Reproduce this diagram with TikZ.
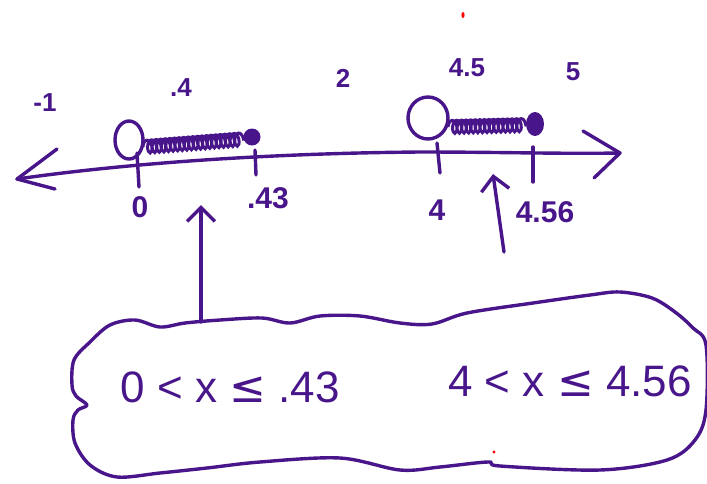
\documentclass[tikz,border=0pt]{standalone}
\usepackage{fontspec}
\setmainfont{Liberation Sans}
\newfontfamily\symfont{DejaVu Sans}
\usetikzlibrary{arrows.meta,decorations.pathmorphing}
\definecolor{ink}{RGB}{72,22,138}
\tikzset{
  inkline/.style={draw=ink,line width=3.4pt,line cap=round,line join=round},
  barb/.style={-{Straight Barb[length=14pt,width=28pt,line width=3.4pt]}},
  coilfill/.style={draw=ink,line width=3pt,decorate,
    decoration={coil,aspect=0.5,segment length=4.6pt,amplitude=6.5pt}},
  lbl/.style={text=ink,inner sep=0pt,font=\fontsize{30}{30}\selectfont\bfseries},
  toplbl/.style={lbl,font=\fontsize{26}{26}\selectfont\bfseries},
  ineq/.style={text=ink,inner sep=0pt,font=\fontsize{44}{44}\selectfont},
}
\newcommand{\lesseq}{{\symfont ≤}}
\begin{document}
\begin{tikzpicture}[x=1pt,y=-1pt]
\useasboundingbox (0,0) rectangle (707,483);

% number line with arrow ends
\coordinate (lend) at (17,179);
\coordinate (rend) at (620,153);
\draw[inkline] (lend) .. controls (150,160) and (300,153) .. (420,152)
                      .. controls (500,152) and (560,154) .. (rend);
\draw[inkline] (57,149) -- (lend) -- (55,189);
\draw[inkline] (583,131) -- (rend) -- (594,178);

% tick marks
\draw[inkline] (137,153) -- (139,187);
\draw[inkline] (255,150) -- (256,175);
\draw[inkline] (437,143) -- (440,173);
\draw[inkline] (533,147) -- (533,182);

% first interval: open at 0, closed at .43
\draw[inkline] (129,140) ellipse (14 and 19);
\draw[coilfill] (143,147) -- (246,139);
\fill[ink] (252,137) circle (8.5);

% second interval: open at 4, closed at 4.56
\draw[inkline] (428,118) ellipse (20 and 21);
\draw[coilfill] (448,127) -- (526,125);
\fill[ink] (535,124) ellipse (9 and 12);

% labels above the line
\node[toplbl] (la) at (45,103) {-1};
\node[toplbl] (lb) at (181,88) {.4};
\node[toplbl] (lc) at (343,78) {2};
\node[toplbl] (ld) at (467,68) {4.5};
\node[toplbl] (le) at (573,72) {5};

% labels below the line
\node[lbl] (t0) at (140,207) {0};
\node[lbl] (t1) at (268,198) {.43};
\node[lbl] (t2) at (437,210) {4};
\node[lbl] (t3) at (545,212) {4.56};

% cloud outline
\draw[inkline] plot[smooth cycle,tension=0.55] coordinates {
  (72,385) (74,360) (90,342) (110,325) (135,320) (160,327) (185,323)
  (220,320) (262,318) (290,323) (320,316) (360,316) (400,323) (432,324)
  (467,313) (533,303) (590,295) (620,292) (652,298) (675,312) (693,328)
  (706,345) (706,410) (695,440) (667,460) (600,470) (500,466) (488,462)
  (440,467) (400,470) (340,458) (260,462) (207,468) (160,473) (117,477)
  (90,465) (75,443) (73,420) (78,410) (87,405) (76,396)};

% inequalities inside the cloud
\node[ineq] (ia) at (230,387) {0 < x \lesseq\ .43};
\node[ineq] (ib) at (570,381) {4 < x \lesseq\ 4.56};

% pointers from the cloud up to the number line
\coordinate (pa) at (201,322);
\coordinate (qa) at (201,205);
\draw[inkline,barb] (pa) -- (qa);
\coordinate (pb) at (504,252);
\coordinate (qb) at (493,174);
\draw[inkline,barb] (pb) -- (qb);

% stray red marks
\fill[red] (463,15) ellipse (1.6 and 3);
\fill[red] (494,452) circle (1.6);
\end{tikzpicture}
\end{document}
